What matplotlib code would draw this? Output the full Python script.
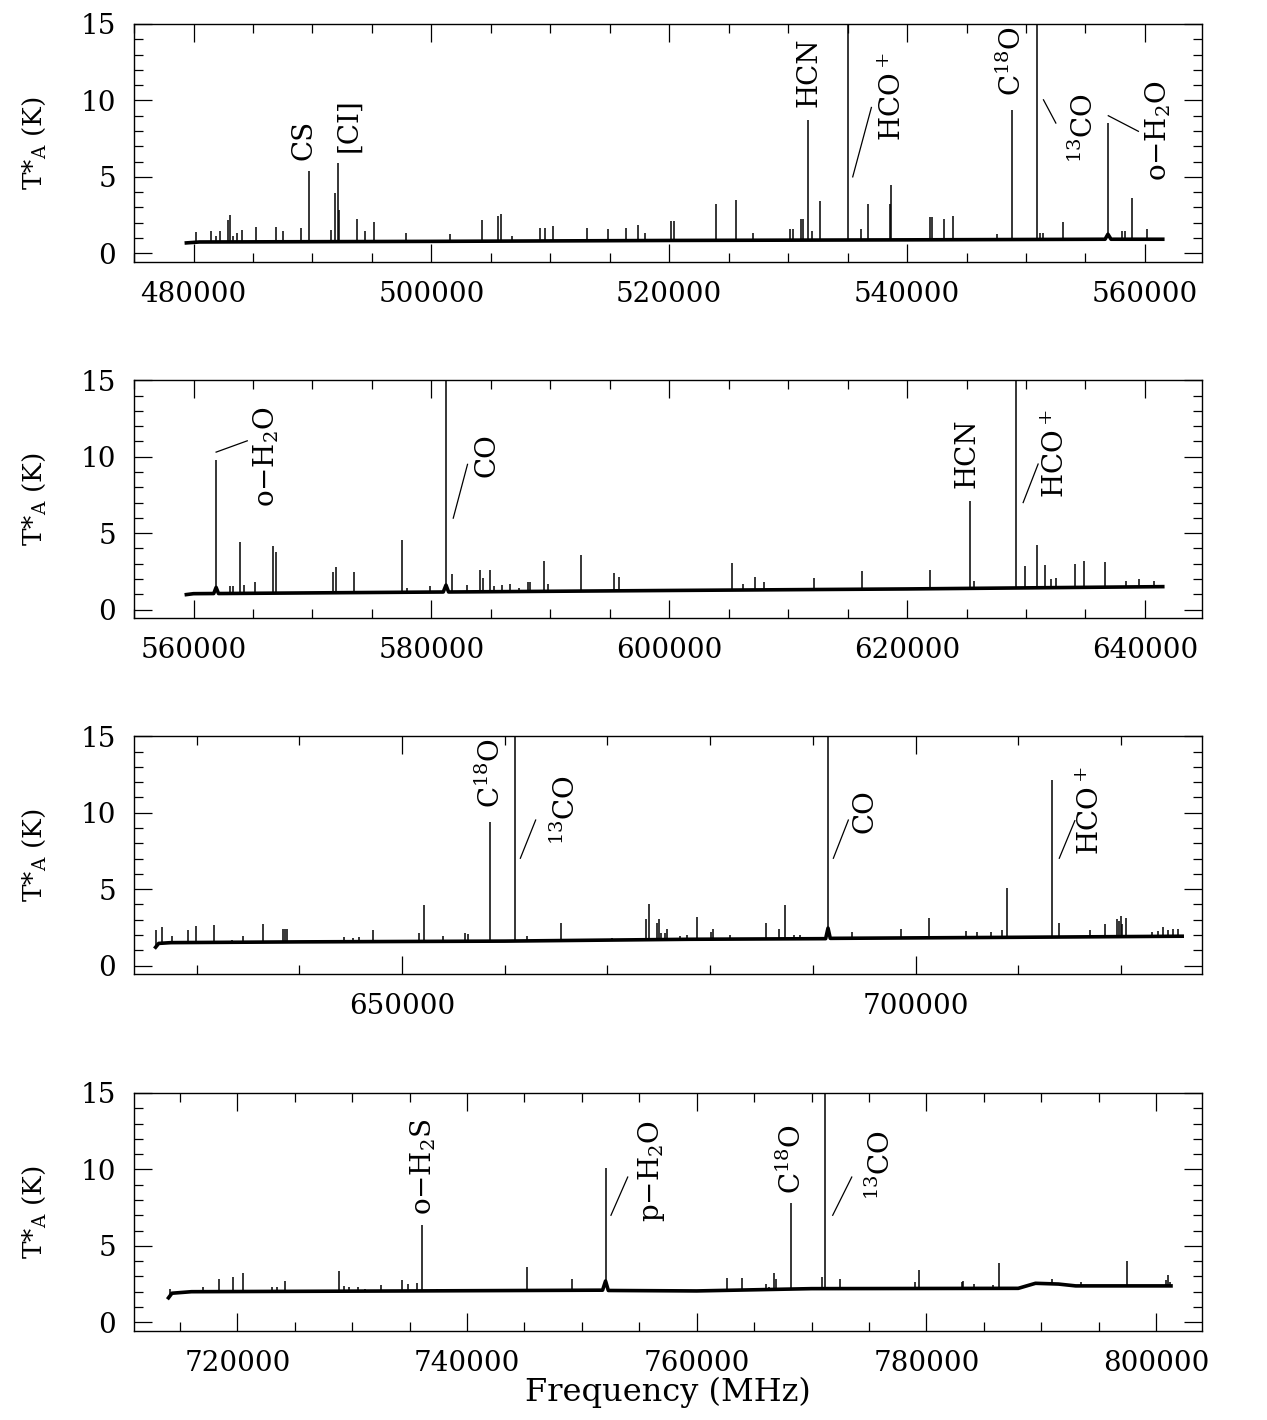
import matplotlib
matplotlib.use("Agg")
import matplotlib.pyplot as plt
from matplotlib.ticker import MultipleLocator, FormatStrFormatter
import numpy as np

plt.rcParams['font.family'] = ['DejaVu Serif']
plt.rcParams['mathtext.fontset'] = 'dejavuserif'

# ---- panel 1 : 480-560 GHz ----
base_f1 = [479400, 480500, 500000, 520000, 540000, 556650, 556890, 557150, 561500]
base_t1 = [0.68, 0.74, 0.78, 0.84, 0.88, 0.92, 1.25, 0.92, 0.92]
freqs1 = [480240, 481500, 481900, 482260, 482890, 483100, 483310, 483670, 484040, 485240,
          486930, 487530, 489040, 489730, 491540, 491930, 492140, 492260, 493730, 494460,
          495150, 497830, 501570, 504280, 505570, 505840, 506800, 509130, 509550, 510210,
          513100, 514880, 516330, 517350, 517980, 520180, 520420, 523930, 525590, 527020,
          530170, 530450, 531070, 531290, 531690, 532030, 532670, 535030, 536160, 536750,
          538540, 538660, 541970, 542090, 543070, 543880, 547590, 548800, 550910, 551190,
          551470, 553100, 556890, 558050, 558330, 558940, 560150]
peaks1 = [1.41, 1.48, 1.13, 1.48, 2.17, 2.48, 1.13, 1.30, 1.5, 1.70,
          1.72, 1.43, 1.67, 5.41, 1.5, 3.96, 5.93, 2.8, 2.26, 1.43,
          2.04, 1.3, 1.24, 2.15, 2.41, 2.59, 1.13, 1.65, 1.65, 1.76,
          1.63, 1.59, 1.65, 1.83, 1.3, 2.09, 2.09, 3.2, 3.5, 1.35,
          1.57, 1.57, 2.22, 2.26, 8.74, 1.46, 3.41, 16, 1.6, 3.2,
          3.2, 4.5, 2.37, 2.37, 2.22, 2.41, 1.28, 9.39, 16, 1.35,
          1.35, 2.04, 8.54, 1.46, 1.46, 3.59, 1.57]
lab_txt1 = ['CS', '[CI]', 'HCN', r'HCO$^+$', r'C$^{18}$O', r'$^{13}$CO', r'o$-$H$_2$O']
lab_x1 = [489940, 493700, 532420, 539500, 549560, 555600, 561780]
lab_y1 = [6.13, 6.61, 9.6, 7.33, 10.26, 5.91, 4.72]
lead1 = [(535430, 5.0, 537000, 9.54), (551470, 10.04, 552510, 8.52), (556920, 9.0, 559450, 7.98)]

# ---- panel 2 : 560-640 GHz ----
base_f2 = [559400, 560000, 561700, 561900, 562100, 581000, 581230, 581450, 600000, 620000, 641500]
base_t2 = [0.98, 1.04, 1.05, 1.45, 1.05, 1.15, 1.6, 1.15, 1.25, 1.35, 1.5]
freqs2 = [561900, 563100, 563280, 563950, 564280, 565180, 566690, 566900, 571720, 571960,
          573520, 577530, 577920, 579880, 581230, 581750, 583010, 584070, 584340, 584910,
          585240, 585960, 586600, 587410, 588160, 588310, 589460, 589820, 592590, 595330,
          595780, 605250, 606210, 607190, 607950, 612140, 616210, 621970, 625260, 625650,
          629190, 629950, 630910, 631580, 632140, 632540, 634110, 634900, 636670, 638410,
          639480, 640800]
peaks2 = [9.78, 1.57, 1.57, 4.43, 1.63, 1.78, 4.13, 3.78, 2.43, 2.78,
          2.48, 4.52, 1.41, 1.52, 16, 2.3, 1.63, 2.61, 2.07, 2.61,
          1.52, 1.63, 1.7, 1.41, 1.83, 1.78, 3.17, 1.7, 3.57, 2.41,
          2.15, 3.04, 1.7, 2.13, 1.78, 2.07, 2.54, 2.61, 7.07, 1.89,
          16, 2.83, 4.24, 2.93, 2.02, 2.07, 3.0, 3.15, 3.11, 1.85,
          2.0, 1.85]
lab_txt2 = [r'o$-$H$_2$O', 'CO', 'HCN', r'HCO$^+$']
lab_x2 = [566780, 585300, 625630, 633210]
lab_y2 = [6.74, 8.7, 7.93, 7.28]
lead2 = [(561900, 10.3, 564520, 11.04), (581840, 5.98, 583040, 9.5), (629760, 7.0, 631020, 9.52)]

# ---- panel 3 : 625-725 GHz ----
base_f3 = [626000, 626300, 627500, 640000, 660000, 678000, 691250, 691480, 691700, 710000, 725970]
base_t3 = [1.2, 1.45, 1.5, 1.55, 1.6, 1.72, 1.76, 2.45, 1.78, 1.85, 1.92]
freqs3 = [626070, 626660, 627640, 629170, 629900, 631700, 633480, 634520, 636500, 638410,
          638620, 638830, 644350, 645260, 645850, 647130, 651610, 652100, 654010, 656130,
          656440, 658560, 661030, 662180, 665450, 670410, 673720, 674000, 674860, 675000,
          675170, 675590, 675760, 677080, 677730, 678770, 680060, 680260, 681950, 685450,
          686720, 687300, 688210, 688760, 691480, 693850, 698590, 701350, 704910, 705950,
          707310, 708450, 708870, 713310, 713960, 716950, 718410, 719670, 719840, 719970,
          720130, 720450, 723010, 723630, 724120, 724600, 725090, 725580]
peaks3 = [2.35, 2.52, 1.96, 2.35, 2.57, 2.67, 1.7, 1.96, 2.7, 2.39,
          2.39, 2.39, 1.87, 1.8, 1.89, 2.35, 2.13, 3.96, 1.91, 2.13,
          2.09, 9.37, 16, 1.96, 2.78, 1.83, 3.07, 4.04, 2.78, 3.04,
          2.13, 2.13, 2.41, 1.91, 2.02, 3.17, 2.22, 2.39, 2.02, 2.78,
          2.39, 3.96, 2.02, 2.02, 16, 2.17, 2.39, 3.11, 2.28, 2.22,
          2.22, 2.35, 5.07, 12.13, 2.78, 2.3, 2.7, 3.04, 2.89, 3.22,
          2.74, 3.09, 2.17, 2.24, 2.52, 2.3, 2.39, 2.39]
lab_txt3 = [r'C$^{18}$O', r'$^{13}$CO', 'CO', r'HCO$^+$']
lab_x3 = [659540, 666840, 695830, 717890]
lab_y3 = [10.28, 7.89, 8.65, 7.24]
lead3 = [(661520, 7.02, 663010, 9.52), (692000, 7.02, 693460, 9.52), (714000, 7.02, 715520, 9.48)]

# ---- panel 4 : 715-800 GHz ----
base_f4 = [714000, 714300, 716000, 735000, 751800, 752060, 752300, 760000, 770000, 788000,
           789500, 791500, 793000, 801300]
base_t4 = [1.6, 1.9, 2.0, 2.05, 2.1, 2.7, 2.08, 2.05, 2.2, 2.22, 2.55, 2.5, 2.38, 2.38]
freqs4 = [714090, 716980, 718410, 719660, 720470, 723050, 723420, 724110, 728860, 729270,
          729700, 730510, 731070, 732470, 734370, 734870, 735670, 736050, 737350, 745220,
          749110, 752060, 762640, 763950, 766040, 766330, 766710, 766880, 768240, 770910,
          771180, 772480, 779040, 779390, 783110, 783220, 784150, 785780, 786330, 790920,
          793470, 797450, 800870, 801080, 801250]
peaks4 = [2.15, 2.33, 2.8, 2.98, 3.24, 2.28, 2.28, 2.7, 3.35, 2.37,
          2.28, 2.28, 2.17, 2.43, 2.76, 2.5, 2.54, 6.35, 2.15, 3.63,
          2.8, 10.1, 2.91, 2.87, 2.5, 2.28, 3.2, 2.8, 7.83, 2.98,
          16, 2.8, 2.61, 3.41, 2.65, 2.7, 2.5, 2.43, 3.87, 2.83,
          2.61, 4.0, 2.76, 3.09, 2.65]
lab_txt4 = [r'o$-$H$_2$S', r'p$-$H$_2$O', r'C$^{18}$O', r'$^{13}$CO']
lab_x4 = [736890, 756700, 769090, 776840]
lab_y4 = [7.0, 6.57, 8.41, 7.98]
lead4 = [(752530, 7.0, 753990, 9.5), (771840, 7.0, 773500, 9.5)]

xlims = [(475000, 564800), (555000, 644800), (623900, 727900), (711000, 804000)]
xmajor = [20000, 20000, 50000, 20000]
xminor = [5000, 5000, 10000, 5000]
panel_bottoms = [0.8157, 0.5648, 0.3141, 0.0629]

panels = [
    (base_f1, base_t1, freqs1, peaks1, lab_txt1, lab_x1, lab_y1, lead1),
    (base_f2, base_t2, freqs2, peaks2, lab_txt2, lab_x2, lab_y2, lead2),
    (base_f3, base_t3, freqs3, peaks3, lab_txt3, lab_x3, lab_y3, lead3),
    (base_f4, base_t4, freqs4, peaks4, lab_txt4, lab_x4, lab_y4, lead4),
]

fig = plt.figure(figsize=(12.67, 14.2), dpi=100)

for i, (bf, bt, fr, pk, ltxt, lx, ly, lead) in enumerate(panels):
    ax = fig.add_axes([0.1058, panel_bottoms[i], 0.8429, 0.1674])

    # continuum + line spikes
    ax.plot(bf, bt, color='black', lw=2.6)
    fr = np.array(fr)
    ax.vlines(fr, np.interp(fr, bf, bt), pk, color='black', lw=1.1)

    for x0, y0, x1, y1 in lead:
        ax.plot([x0, x1], [y0, y1], color='black', lw=0.9)
    for t, x, y in zip(ltxt, lx, ly):
        ax.text(x, y, t, rotation=90, rotation_mode='anchor', ha='left', va='baseline',
                fontsize=20, clip_on=False)

    ax.set_xlim(*xlims[i])
    ax.set_ylim(-0.55, 15)
    ax.xaxis.set_major_locator(MultipleLocator(xmajor[i]))
    ax.xaxis.set_minor_locator(MultipleLocator(xminor[i]))
    ax.xaxis.set_major_formatter(FormatStrFormatter('%d'))
    ax.yaxis.set_major_locator(MultipleLocator(5))
    ax.yaxis.set_minor_locator(MultipleLocator(1))
    ax.tick_params(which='both', direction='in', top=True, right=True, width=0.9, labelsize=20)
    ax.tick_params(which='major', length=13)
    ax.tick_params(which='minor', length=6.5)
    ax.tick_params(axis='x', pad=14)
    ax.tick_params(axis='y', pad=13)
    for s in ax.spines.values():
        s.set_linewidth(1.0)

    ax.set_ylabel(r'T*$_{\rm A}$ (K)', fontsize=19)
    ax.yaxis.set_label_coords(-0.081, 0.5)

    if i == 3:
        ax.set_xlabel('Frequency (MHz)', fontsize=23, labelpad=0)

fig.savefig('out.png', dpi=100)
